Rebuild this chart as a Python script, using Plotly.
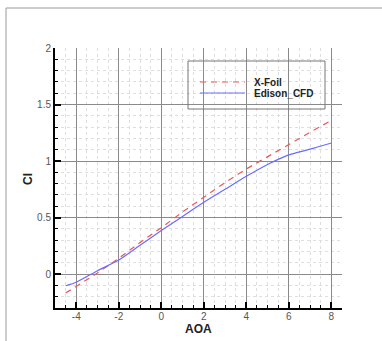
import plotly.graph_objects as go

# Lift coefficient vs angle of attack
series_names = ["X-Foil", "Edison_CFD"]

aoa_xfoil = [-4.5, -4, -3, -2, -1, 0, 1, 2, 3, 4, 5, 6, 7, 8]
cl_xfoil = [-0.168, -0.11, 0.01, 0.14, 0.28, 0.41, 0.55, 0.68, 0.81, 0.93, 1.04, 1.15, 1.255, 1.36]

aoa_cfd = [-4.5, -4, -3, -2, -1, 0, 1, 2, 3, 4, 5, 5.5, 6, 7, 8]
cl_cfd = [-0.103, -0.072, 0.03, 0.125, 0.255, 0.385, 0.51, 0.635, 0.75, 0.865, 0.97, 1.015, 1.055, 1.105, 1.16]

x_ticks = [-4, -2, 0, 2, 4, 6, 8]
y_ticks = [0, 0.5, 1, 1.5, 2]
x_title = "AOA"
y_title = "Cl"

red = "#e8585a"
blue = "#6b6bff"

fig = go.Figure()
fig.add_trace(go.Scatter(x=aoa_xfoil, y=cl_xfoil, mode="lines", name=series_names[0],
                         line=dict(color=red, width=1.2, dash="6px,5px")))
fig.add_trace(go.Scatter(x=aoa_cfd, y=cl_cfd, mode="lines", name=series_names[1],
                         line=dict(color=blue, width=1.2, shape="spline", smoothing=0.6)))

axis_common = dict(
    showline=True, linecolor="black", linewidth=2,
    ticks="inside", ticklen=6, tickwidth=2, tickcolor="black",
    showgrid=True, gridcolor="#8a8a8a", gridwidth=1,
    zeroline=False, mirror=False, automargin=False,
    tickfont=dict(family="Liberation Sans, Arial", size=10, color="#555"),
)
minor_common = dict(showgrid=True, gridcolor="#dedede", griddash="3px,3px",
                    ticks="inside", ticklen=3, tickwidth=1, tickcolor="black")

fig.update_xaxes(
    range=[-5, 8.5], tickvals=x_ticks, ticktext=[str(v) for v in x_ticks],
    minor=dict(dtick=0.5, tick0=0, **minor_common),
    ticklabelstandoff=-2,
    **axis_common,
)
fig.update_yaxes(
    range=[-0.3, 2], tickvals=y_ticks, ticktext=["0", "0.5", "1", "1.5", "2"],
    minor=dict(dtick=0.1, tick0=0, **minor_common),
    **axis_common,
)

# plot area geometry in pixels
W, H = 382, 341
ml, mr, mt, mb = 55, 40, 48, 33
pw, ph = W - ml - mr, H - mt - mb


def px_x(p):
    return (p - ml) / pw


def px_y(p):
    return (H - mb - p) / ph


shapes = []
# outer frame (left and top edges)
shapes.append(dict(type="line", xref="paper", yref="paper", x0=px_x(6), x1=px_x(6),
                   y0=px_y(8), y1=px_y(400), line=dict(color="#9a9a9a", width=1)))
shapes.append(dict(type="line", xref="paper", yref="paper", x0=px_x(6), x1=px_x(400),
                   y0=px_y(8), y1=px_y(8), line=dict(color="#9a9a9a", width=1)))
# legend box
shapes.append(dict(type="rect", xref="paper", yref="paper", x0=px_x(188), x1=px_x(325),
                   y0=px_y(109), y1=px_y(61), line=dict(color="#777", width=1),
                   fillcolor="rgba(255,255,255,0)"))
annotations = []
legend_rows = [(series_names[0], red, "6px,5px", 82), (series_names[1], blue, "solid", 93)]
for name, col, dash, yy in legend_rows:
    shapes.append(dict(type="line", xref="paper", yref="paper", x0=px_x(200), x1=px_x(245),
                       y0=px_y(yy), y1=px_y(yy), line=dict(color=col, width=1.2, dash=dash)))
    annotations.append(dict(xref="paper", yref="paper", x=px_x(252), y=px_y(yy), text="<b>%s</b>" % name,
                            showarrow=False, xanchor="left", yanchor="middle",
                            font=dict(family="Liberation Sans, Arial", size=10, color="#222")))

# axis titles
annotations.append(dict(xref="paper", yref="paper", x=px_x(198), y=px_y(329), text="<b>%s</b>" % x_title,
                        showarrow=False, xanchor="center", yanchor="middle", borderpad=0, borderwidth=0,
                        font=dict(family="Liberation Sans, Arial", size=12, color="#222")))
annotations.append(dict(xref="paper", yref="paper", x=px_x(28), y=px_y(179), text="<b>%s</b>" % y_title,
                        showarrow=False, xanchor="center", yanchor="middle", textangle=-90,
                        borderpad=0, borderwidth=0,
                        font=dict(family="Liberation Sans, Arial", size=12, color="#222")))

fig.update_layout(
    width=W, height=H,
    margin=dict(l=ml, r=mr, t=mt, b=mb, autoexpand=False),
    paper_bgcolor="white", plot_bgcolor="white",
    showlegend=False,
    shapes=shapes, annotations=annotations,
)

fig.write_html("out.html")
